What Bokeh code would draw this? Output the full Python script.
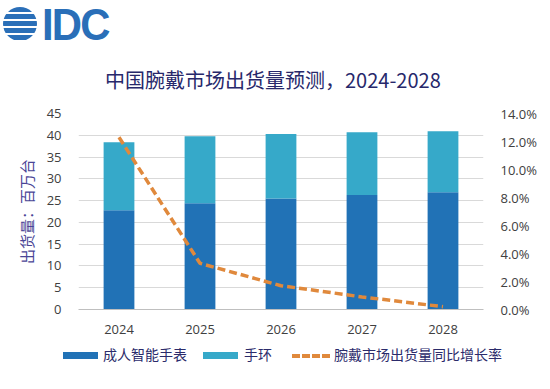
from bokeh.plotting import figure
from bokeh.models import (ColumnDataSource, Range1d, LinearAxis, Div,
                          FixedTicker, CustomJSTickFormatter)
from bokeh.layouts import column
from bokeh.embed import file_html
from bokeh.resources import INLINE

years = ["2024", "2025", "2026", "2027", "2028"]
smartwatch = [22.8, 24.4, 25.5, 26.3, 26.9]
band = [15.6, 15.4, 14.8, 14.4, 14.0]
growth = [12.3, 3.3, 1.7, 0.9, 0.2]

title_text = "中国腕戴市场出货量预测，2024-2028"
y_label = "出货量：百万台"
series_names = ["成人智能手表", "手环", "腕戴市场出货量同比增长率"]

DARK = "#2172B6"
LIGHT = "#36A9C9"
ORANGE = "#E0893C"
CJK = "Noto Sans CJK SC"
NUM = "Open Sans"

header = Div(
    text=f"""
<div style="position:relative;width:545px;height:96px;">
  <div style="position:absolute;left:3px;top:7px;width:34px;height:34px;border-radius:50%;
       background:repeating-linear-gradient(to bottom,#2A6FB8 0px,#2A6FB8 5px,#ffffff 5px,#ffffff 7px);"></div>
  <div style="position:absolute;left:42px;top:-7px;font-family:'Liberation Sans',Arial,sans-serif;
       font-weight:bold;font-size:45px;color:#2A6FB8;letter-spacing:-2px;transform:scaleX(0.93);
       transform-origin:left top;">IDC</div>
  <div style="position:absolute;left:105px;top:66px;font-family:'{CJK}';font-size:20px;
       color:#27286B;white-space:nowrap;">{title_text}</div>
</div>""",
    width=545, height=96, margin=(0, 0, 0, 0))

src = ColumnDataSource(dict(years=years, smartwatch=smartwatch, band=band, growth=growth))

p = figure(x_range=years, y_range=Range1d(0, 45), width=545, height=244,
           output_backend="svg", toolbar_location=None,
           min_border_left=78, min_border_right=62, min_border_top=17, min_border_bottom=31,
           margin=(0, 0, 0, 0))
p.x_range.range_padding = 0
p.extra_y_ranges = {"pct": Range1d(0, 14)}

r = p.vbar_stack(["smartwatch", "band"], x="years", width=0.38, source=src,
                 color=[DARK, LIGHT], line_color=None)
ln = p.line(x="years", y="growth", source=src, y_range_name="pct",
            line_color=ORANGE, line_width=3.5, line_dash="8 4")

p.outline_line_color = None
p.xgrid.grid_line_color = None
p.ygrid.grid_line_color = "#D9D9D9"
p.ygrid.grid_line_width = 1.2
p.yaxis.ticker = FixedTicker(ticks=list(range(0, 46, 5)))

for ax in [p.yaxis[0], p.xaxis[0]]:
    ax.major_tick_line_color = None
    ax.minor_tick_line_color = None
    ax.major_label_text_font = NUM
    ax.major_label_text_font_size = "13px"
    ax.major_label_text_color = "#404040"

p.yaxis.axis_line_color = None
p.yaxis.major_label_standoff = 11
p.yaxis.axis_label = y_label
p.yaxis.axis_label_text_font = CJK
p.yaxis.axis_label_text_font_style = "normal"
p.yaxis.axis_label_text_font_size = "15px"
p.yaxis.axis_label_text_color = "#4A4596"
p.yaxis.axis_label_standoff = 7

p.xaxis.axis_line_color = "#BFBFBF"
p.xaxis.axis_line_width = 1.2
p.xaxis.major_label_standoff = 9

ra = LinearAxis(y_range_name="pct", ticker=FixedTicker(ticks=list(range(0, 15, 2))),
                formatter=CustomJSTickFormatter(code="return tick.toFixed(1) + '%';"))
ra.axis_line_color = None
ra.major_tick_line_color = None
ra.minor_tick_line_color = None
ra.major_label_text_font = NUM
ra.major_label_text_font_size = "13px"
ra.major_label_text_color = "#404040"
ra.major_label_standoff = 11
p.add_layout(ra, "right")

lab = f"position:absolute;top:4px;font-family:'{CJK}';font-size:14px;color:#2B2B6B;white-space:nowrap;"
legend = Div(
    text=f"""
<div style="position:relative;width:545px;height:40px;">
  <div style="position:absolute;left:63px;top:12px;width:35px;height:7px;background:{DARK};"></div>
  <div style="{lab}left:103px;">{series_names[0]}</div>
  <div style="position:absolute;left:203px;top:12px;width:35px;height:7px;background:{LIGHT};"></div>
  <div style="{lab}left:244px;">{series_names[1]}</div>
  <div style="position:absolute;left:292px;top:14px;width:38px;height:0;border-top:4px dashed {ORANGE};"></div>
  <div style="{lab}left:334px;">{series_names[2]}</div>
</div>""",
    width=545, height=40, margin=(0, 0, 0, 0))

layout = column(header, p, legend, spacing=0)
open("out.html", "w").write(file_html(layout, INLINE))
